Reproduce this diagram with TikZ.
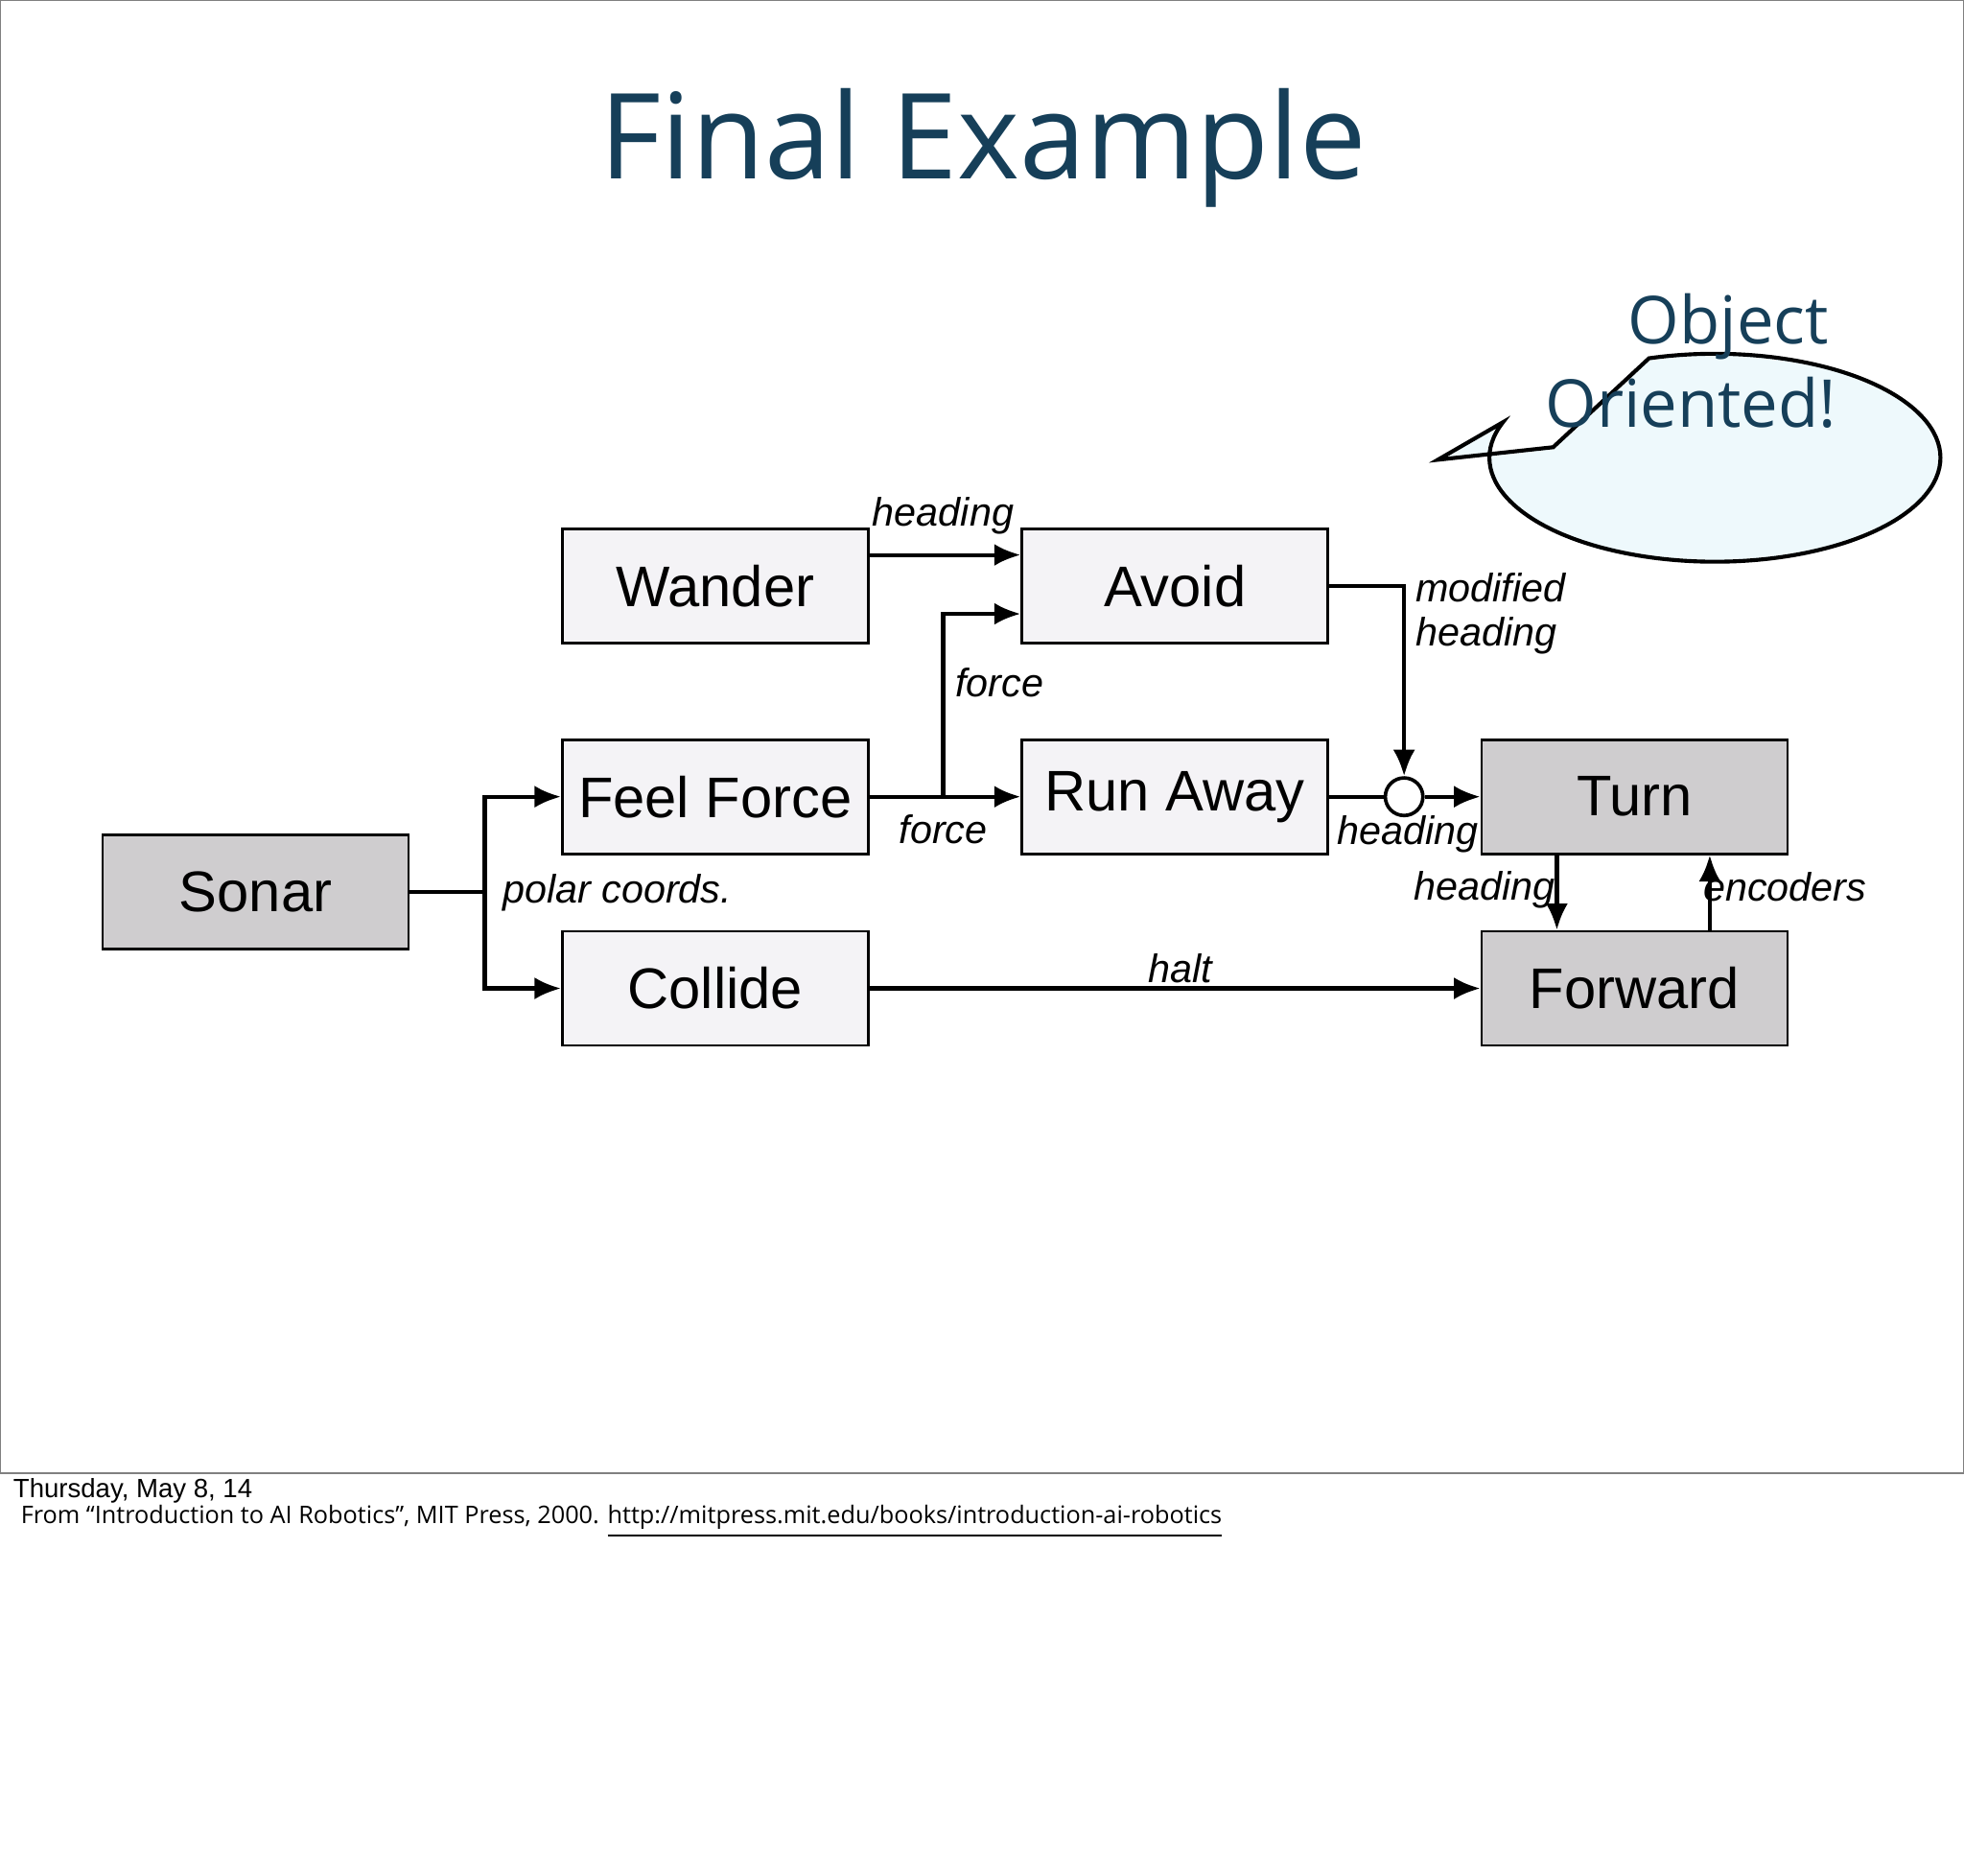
\documentclass[tikz,border=0pt]{standalone}
\usepackage{fontspec}
\setmainfont{Liberation Sans}
\newfontfamily\slidefont{Open Sans}
\usetikzlibrary{arrows.meta,shapes.geometric,shapes.callouts}
\definecolor{titleblue}{HTML}{163F59}
\definecolor{boxlight}{HTML}{F4F3F6}
\definecolor{boxdark}{HTML}{CFCDCF}
\definecolor{bubble}{HTML}{EEF9FC}
\tikzset{
  module/.style={draw, line width=0.6pt, minimum width=2.44cm, minimum height=0.91cm, inner sep=0pt, font=\fontsize{13}{15}\selectfont},
  light/.style={module, fill=boxlight},
  dark/.style={module, fill=boxdark},
  flow/.style={line width=0.9pt, -{Latex[length=6pt,width=5pt]}},
  lbl/.style={font=\fontsize{9}{10}\selectfont\itshape, inner sep=1pt},
}
\begin{document}
\begin{tikzpicture}[x=0.01cm, y=-0.01cm]
  \useasboundingbox (0,0) rectangle (1568,1497);
  % slide frame
  \draw[gray, line width=0.4pt] (0,0) rectangle (1568,1176);
  \node[text=titleblue, font=\slidefont\fontsize{27}{30}\selectfont] (title) at (785,118) {Final Example};

  % speech bubble
  \draw[fill=bubble, line width=0.9pt] (1240,357) -- (1148,367) -- (1200,337)
    arc[start angle=200, end angle=-107, x radius=180, y radius=83] -- cycle;
  \node[text=titleblue, font=\slidefont\fontsize{15}{19}\selectfont, align=center] (bubbletext) at (1350,288) {\hspace*{0.6cm}Object\\Oriented!};

  % modules
  \node[light] (wander) at (571,468) {Wander};
  \node[light] (avoid) at (938,468) {Avoid};
  \node[light] (feel) at (571,636) {Feel Force};
  \node[light] (runaway) at (938,636) {Run Away};
  \node[dark] (turn) at (1305,636) {Turn};
  \node[dark] (sonar) at (204,712) {Sonar};
  \node[light] (collide) at (571,789) {Collide};
  \node[dark] (forward) at (1305,789) {Forward};
  \node[draw, circle, fill=white, line width=0.8pt, minimum size=0.3cm, inner sep=0pt] (sup) at (1121,636) {};

  \coordinate (split) at (387,712);
  \coordinate (fork) at (753,636);

  % connectors
  \draw[line width=0.9pt] (sonar.east) -- (split);
  \draw[flow] (split) |- (feel.west);
  \draw[flow] (split) |- (collide.west);
  \draw[flow] ([yshift=0.25cm]wander.east) -- ([yshift=0.25cm]avoid.west);
  \draw[flow] (feel.east) -- (runaway.west);
  \draw[flow] (fork) |- ([yshift=-0.22cm]avoid.west);
  \draw[flow] (avoid.east) -| (sup.north);
  \draw[line width=0.9pt] (runaway.east) -- (sup.west);
  \draw[flow] (sup.east) -- (turn.west);
  \draw[flow] ([xshift=-0.62cm]turn.south) -- ([xshift=-0.62cm]forward.north);
  \draw[flow] ([xshift=0.6cm]forward.north) -- ([xshift=0.6cm]turn.south);
  \draw[flow] (collide.east) -- (forward.west);

  % labels
  \node[lbl, anchor=west] at (397,713) {polar coords.};
  \node[lbl] at (753,412) {heading};
  \node[lbl] at (798,545) {force};
  \node[lbl] at (753,662) {force};
  \node[lbl, align=left] at (1190,490) {modified\\heading};
  \node[lbl] at (1124,666) {heading};
  \node[lbl] at (1185,710) {heading};
  \node[lbl] at (1425,708) {encoders};
  \node[lbl] at (942,773) {halt};

  % footer
  \node[anchor=west, font=\fontsize{6}{7}\selectfont, inner sep=0pt] at (10,1190) {Thursday, May 8, 14};
  \node[anchor=west, font=\slidefont\fontsize{5.5}{7}\selectfont, inner sep=0pt] at (16,1215) {From “Introduction to AI Robotics”, MIT Press, 2000. \underline{http://mitpress.mit.edu/books/introduction-ai-robotics}};
\end{tikzpicture}
\end{document}
